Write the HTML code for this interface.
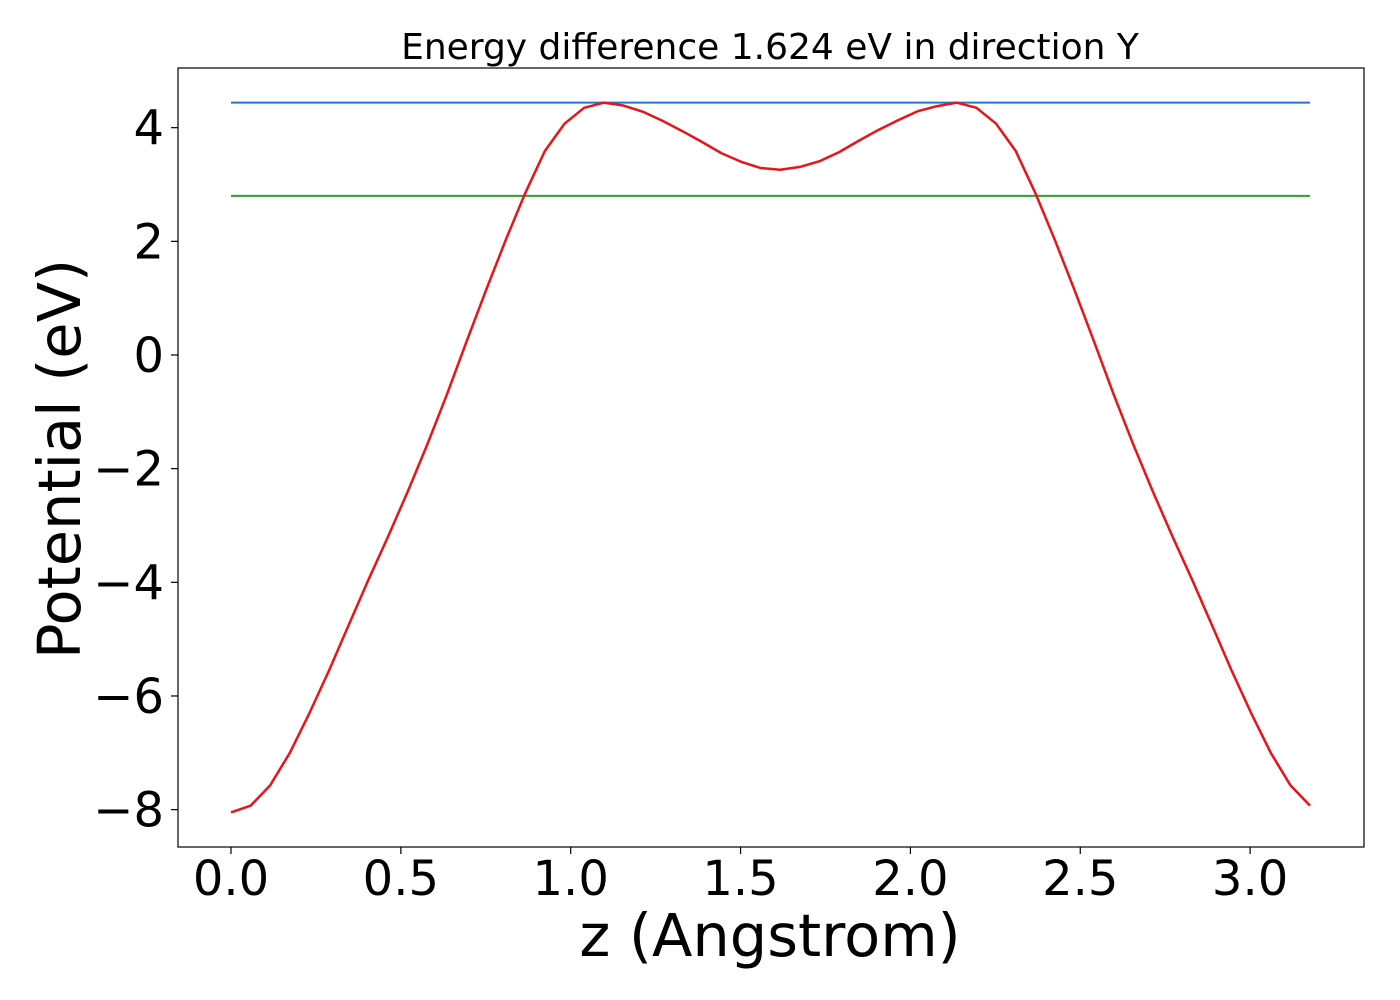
<!DOCTYPE html>
<html><head><meta charset="utf-8"><style>
body{margin:0;background:#fff;}
svg{display:block;font-family:"DejaVu Sans","Liberation Sans",sans-serif;}
</style></head><body>
<svg id="chart" width="1400" height="1000">
<rect x="0" y="0" width="1400" height="1000" fill="#fff"/>
<g id="plot"></g>
</svg>
<script>
const xTicks=[0,0.5,1,1.5,2,2.5,3];
const xTickLabels=["0.0","0.5","1.0","1.5","2.0","2.5","3.0"];
const yTicks=[4,2,0,-2,-4,-6,-8];
const yTickLabels=["4","2","0","\u22122","\u22124","\u22126","\u22128"];
const zStep=0.05775;
const potential=[-8.05,-7.93,-7.57,-7.0,-6.3,-5.55,-4.75,-3.96,-3.2,-2.41,-1.58,-0.7,0.23,1.14,2.02,2.85,3.59,4.07,4.35,4.44,
4.39,4.28,4.12,3.94,3.75,3.55,3.4,3.29,3.26,3.31,3.41,3.57,3.77,3.96,4.13,4.29,4.38,4.44,
4.35,4.07,3.59,2.85,2.02,1.14,0.23,-0.7,-1.58,-2.41,-3.2,-3.96,-4.75,-5.55,-6.3,-7.0,-7.57,-7.93];
const maxLevel=[4.44];
const meanLevel=[2.80];

const NS="http://www.w3.org/2000/svg";
const g=document.getElementById('plot');
const X=v=>231+v*339.7;
const Y=v=>355-v*56.83;
function mk(t,a){const e=document.createElementNS(NS,t);for(const k in a)e.setAttribute(k,a[k]);g.appendChild(e);return e;}
const zs=potential.map((_,i)=>i*zStep);
const zMax=zs[zs.length-1];

let e=mk('line',{x1:X(0),x2:X(zMax),y1:Y(maxLevel[0]),y2:Y(maxLevel[0]),stroke:'#1f77d0','stroke-width':2});


e=mk('line',{x1:X(0),x2:X(zMax),y1:Y(meanLevel[0]),y2:Y(meanLevel[0]),stroke:'#2ca02c','stroke-width':2});


e=mk('polyline',{points:zs.map((z,i)=>X(z)+','+Y(potential[i])).join(' '),fill:'none',stroke:'#e8141a','stroke-width':2.5,'stroke-linejoin':'round'});



e=mk('rect',{x:178,y:68,width:1186,height:779,fill:'none',stroke:'#000','stroke-width':1.2});



xTicks.forEach((v,i)=>{
 mk('line',{x1:X(v),x2:X(v),y1:847,y2:854,stroke:'#000','stroke-width':1.2});
 const t=mk('text',{x:X(v),y:895,'font-size':48,'text-anchor':'middle'});t.textContent=xTickLabels[i];
 
 
});
yTicks.forEach((v,i)=>{
 mk('line',{x1:171,x2:178,y1:Y(v),y2:Y(v),stroke:'#000','stroke-width':1.2});
 const t=mk('text',{x:164,y:Y(v)+17,'font-size':48,'text-anchor':'end'});t.textContent=yTickLabels[i];
 
 
});
e=mk('text',{x:770,y:956,'font-size':59,'text-anchor':'middle'});e.textContent='z (Angstrom)';


e=mk('text',{x:80,y:459,'font-size':59,'text-anchor':'middle',transform:'rotate(-90 80 459)'});e.textContent='Potential (eV)';


e=mk('text',{x:770,y:59,'font-size':36,'text-anchor':'middle'});e.textContent='Energy difference 1.624 eV in direction Y';


</script>
</body></html>
